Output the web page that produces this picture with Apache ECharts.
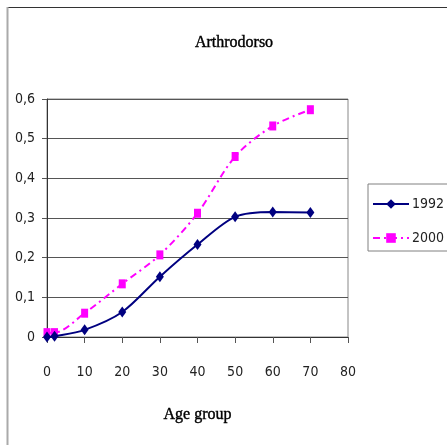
<!DOCTYPE html>
<html>
<head>
<meta charset="utf-8">
<script src="https://cdn.jsdelivr.net/npm/echarts@6/dist/echarts.min.js"></script>
<style>
  html, body { margin: 0; padding: 0; background: #fff; }
  #chart { width: 447px; height: 445px; }
</style>
</head>
<body>
<div id="chart"></div>
<script>
// values
const ageGroups = [0, 2, 10, 20, 30, 40, 50, 60, 70];
const values1992 = [0, 0.002, 0.018, 0.063, 0.152, 0.233, 0.303, 0.315, 0.314];
const values2000 = [0.011, 0.011, 0.06, 0.134, 0.207, 0.312, 0.455, 0.532, 0.573];
const seriesNames = ['1992', '2000'];

const labelFont = "'DejaVu Sans Condensed'";
const serifFont = "'Liberation Serif', 'DejaVu Serif', serif";

const chart = echarts.init(document.getElementById('chart'));

const pairs = (xs, ys) => xs.map((x, i) => [x, ys[i]]);

chart.setOption({
  animation: false,
  title: {
    text: 'Arthrodorso',
    left: 229,
    top: 30,
    textAlign: 'center',
    textStyle: {
      fontFamily: serifFont, fontSize: 16, fontWeight: 'normal', color: '#000',
      textBorderColor: '#000', textBorderWidth: 0.4
    }
  },
  graphic: [
    { type: 'line', shape: { x1: 7, y1: 7.5, x2: 447, y2: 7.5 }, style: { stroke: '#333', lineWidth: 1 } },
    { type: 'line', shape: { x1: 7.5, y1: 7, x2: 7.5, y2: 445 }, style: { stroke: '#aaa', lineWidth: 2 } }
  ],
  legend: {
    orient: 'vertical',
    left: 368,
    top: 184,
    padding: [12, 8, 5, 4],
    itemGap: 18,
    itemWidth: 36,
    itemHeight: 12,
    borderColor: '#808080',
    borderWidth: 1,
    data: seriesNames,
    textStyle: { fontFamily: labelFont, fontSize: 14, color: '#222', lineHeight: 16, padding: [0, 0, 0, -2] }
  },
  grid: {
    left: 47,
    top: 99,
    right: 99,
    bottom: 108,
    show: true,
    borderColor: '#888',
    borderWidth: 1,
    backgroundColor: 'transparent'
  },
  xAxis: {
    type: 'value',
    min: 0,
    max: 80,
    interval: 10,
    name: 'Age group',
    nameLocation: 'middle',
    nameGap: 70,
    nameTextStyle: {
      fontFamily: serifFont, fontSize: 16, fontWeight: 'normal', color: '#000',
      textBorderColor: '#000', textBorderWidth: 0.4
    },
    axisLine: { show: true, lineStyle: { color: '#333', width: 1 } },
    axisTick: { show: true, inside: false, length: 6, lineStyle: { color: '#555' } },
    axisLabel: { margin: 28, fontFamily: labelFont, fontSize: 14, color: '#222' },
    splitLine: { show: false }
  },
  yAxis: {
    type: 'value',
    min: 0,
    max: 0.6,
    interval: 0.1,
    axisLine: { show: true, lineStyle: { color: '#333', width: 1 } },
    axisTick: { show: true, inside: false, length: 5, lineStyle: { color: '#555' } },
    axisLabel: {
      margin: 12,
      fontFamily: labelFont,
      fontSize: 14,
      color: '#222',
      formatter: (v) => (Math.round(v * 10) / 10).toString().replace('.', ',')
    },
    splitLine: { show: true, lineStyle: { color: '#555', width: 1 } }
  },
  series: [
    {
      name: seriesNames[0],
      type: 'line',
      smooth: 0.3,
      data: pairs(ageGroups, values1992),
      symbol: 'diamond',
      symbolSize: [8, 11],
      itemStyle: { color: '#000080' },
      lineStyle: { color: '#000080', width: 2 },
      z: 3
    },
    {
      name: seriesNames[1],
      type: 'line',
      smooth: 0.3,
      data: pairs(ageGroups, values2000),
      symbol: 'rect',
      symbolSize: [7, 9],
      itemStyle: { color: '#ff00ff' },
      lineStyle: { color: '#ff00ff', width: 2, type: [7, 4, 2, 4] },
      z: 2
    }
  ]
});
</script>
</body>
</html>
